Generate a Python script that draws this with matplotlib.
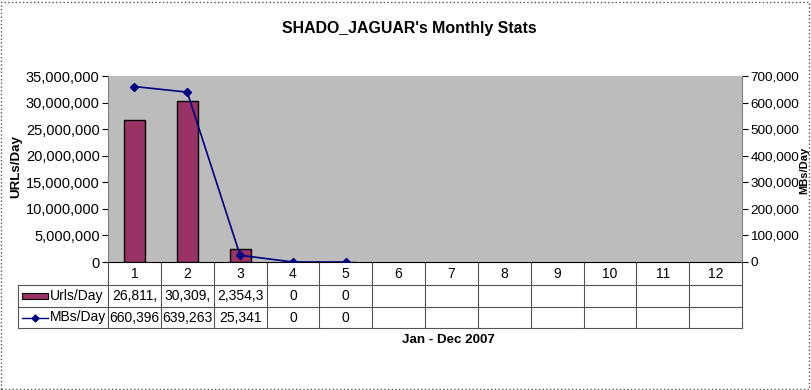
import matplotlib.pyplot as plt
import matplotlib.transforms as mtransforms
from matplotlib.patches import Rectangle
from matplotlib.lines import Line2D

plt.rcParams['font.family'] = ['Liberation Sans', 'DejaVu Sans']

months = list(range(1, 13))
urls_per_day = [26811000, 30309000, 2354300, 0, 0]
mbs_per_day = [660396, 639263, 25341, 0, 0]
series_names = ['Urls/Day', 'MBs/Day']

W, H = 811, 390
fig = plt.figure(figsize=(W / 100, H / 100), dpi=100)

# plot area in pixels: left 108, right 742, top 76, bottom 262
L, R, T, B = 108, 742, 76, 262
ax = fig.add_axes([L / W, 1 - B / H, (R - L) / W, (B - T) / H])
ax.set_facecolor('#bcbcbc')
ax.bar(range(1, len(urls_per_day) + 1), urls_per_day, width=0.4,
       color='#993366', edgecolor='black', linewidth=1)
ax.set_xlim(0.5, 12.5)
ax.set_ylim(0, 35000000)
ax.set_yticks(range(0, 35000001, 5000000))
ax.yaxis.set_major_formatter(plt.FuncFormatter(lambda v, p: f'{int(v):,}'))
ax.set_xticks([])
ax.tick_params(axis='y', labelsize=10.5, length=4, direction='out', pad=2)
for s in ['top', 'right']:
    ax.spines[s].set_visible(False)
ax.spines['left'].set_color('#808080')
ax.spines['bottom'].set_color('black')

ax2 = ax.twinx()
ax2.plot(range(1, len(mbs_per_day) + 1), mbs_per_day, color='#000080',
         marker='D', markersize=4, linewidth=1.2)
ax2.set_ylim(0, 700000)
ax2.set_yticks(range(0, 700001, 100000))
ax2.yaxis.set_major_formatter(plt.FuncFormatter(lambda v, p: f'{int(v):,}'))
ax2.tick_params(axis='y', labelsize=9.7, length=4, direction='out', pad=2)
for s in ['top', 'left', 'bottom']:
    ax2.spines[s].set_visible(False)
ax2.spines['right'].set_color('#808080')

fig.text(409 / W, 1 - 28 / H, "SHADO_JAGUAR's Monthly Stats", ha='center',
         va='center', fontsize=11.4, fontweight='bold')
fig.text(16 / W, 1 - 166 / H, 'URLs/Day', rotation=90, ha='center',
         va='center', fontsize=9.6, fontweight='bold')
fig.text(804 / W, 1 - 170 / H, 'MBs/Day', rotation=90, ha='center',
         va='center', fontsize=8, fontweight='bold')
fig.text(448 / W, 1 - 340 / H, 'Jan - Dec 2007', ha='center', va='center',
         fontsize=9.6, fontweight='bold')

# data table below the axis
tr = mtransforms.blended_transform_factory(ax.transData, fig.transFigure)
ftr = fig.transFigure
def fy(py):
    return 1 - py / H

rows_y = [262, 285, 307, 328]
edges = [m - 0.5 for m in months] + [12.5]
for e in edges:
    ax.add_line(Line2D([e, e], [fy(rows_y[0]), fy(rows_y[3])], transform=tr,
                       color='#555555', lw=0.8, clip_on=False))
for y in rows_y[1:]:
    fig.add_artist(Line2D([18 / W, R / W], [fy(y), fy(y)], color='#555555', lw=0.8))
fig.add_artist(Line2D([18 / W, 18 / W], [fy(rows_y[1]), fy(rows_y[3])],
                      color='#555555', lw=0.8))

for m in months:
    ax.text(m, fy((rows_y[0] + rows_y[1]) / 2), str(m), transform=tr,
            ha='center', va='center', fontsize=10)

def cell(v):
    return f'{int(v):,}'[:7]

for i, vals in enumerate([urls_per_day, mbs_per_day]):
    yc = fy((rows_y[i + 1] + rows_y[i + 2]) / 2)
    for m, v in zip(months, vals):
        ax.text(m, yc, cell(v), transform=tr, ha='center', va='center', fontsize=10)
    fig.text(50 / W, yc, series_names[i], ha='left', va='center', fontsize=10)

yc1 = fy((rows_y[1] + rows_y[2]) / 2)
fig.add_artist(Rectangle((22 / W, yc1 - 3 / H), 26 / W, 6 / H, transform=ftr,
                         facecolor='#993366', edgecolor='black', lw=0.8))
yc2 = fy((rows_y[2] + rows_y[3]) / 2)
fig.add_artist(Line2D([22 / W, 48 / W], [yc2, yc2], color='#000080', lw=1))
fig.add_artist(Line2D([35 / W], [yc2], color='#000080', marker='D', markersize=3.5))

fig.add_artist(Rectangle((1 / W, 1 / H), (W - 3) / W, (H - 3) / H, transform=ftr,
                         fill=False, edgecolor='#555555', lw=1, linestyle=':'))

fig.savefig('out.png', dpi=100)
